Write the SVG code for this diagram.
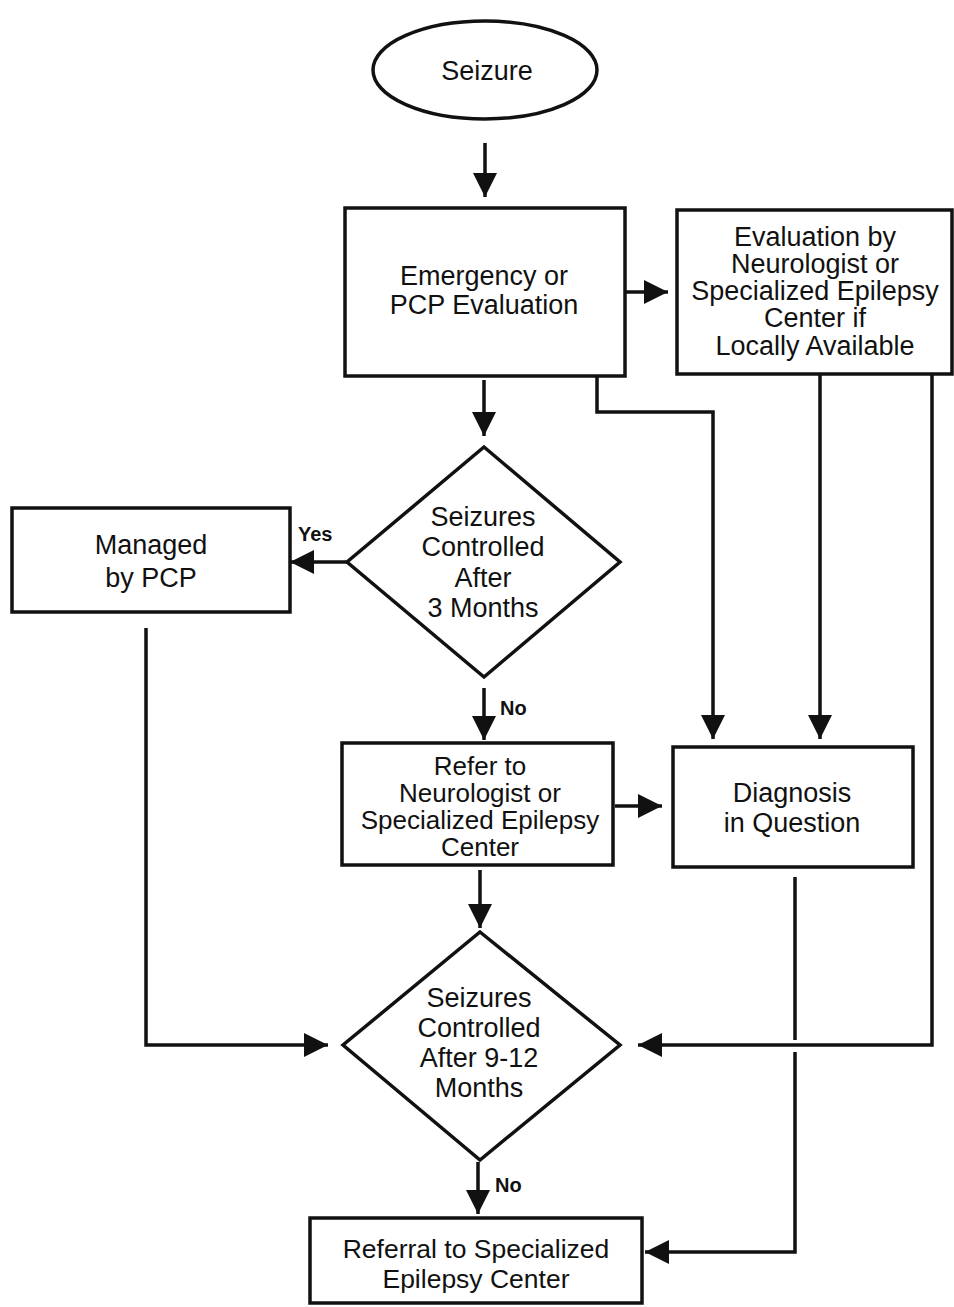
<svg xmlns="http://www.w3.org/2000/svg" width="954" height="1307" viewBox="0 0 954 1307">
<style>
.n{fill:#fff;stroke:#111;stroke-width:3.5}
.t{font-family:"Liberation Sans",Arial,sans-serif;font-size:27px;fill:#111;text-anchor:middle}
.s{font-size:26px}
.r{font-size:26.5px}
.l{font-family:"Liberation Sans",Arial,sans-serif;font-size:20px;font-weight:bold;fill:#111}
.c{fill:none;stroke:#111;stroke-width:3.5}
</style>
<defs>
<marker id="ah" markerUnits="userSpaceOnUse" markerWidth="26" markerHeight="26" refX="24" refY="12" orient="auto">
<path d="M0,0 L24,12 L0,24 z" fill="#111"/>
</marker>
</defs>
<rect width="954" height="1307" fill="#fff"/>
<g id="connectors">
<line class="c" x1="485" y1="143" x2="485" y2="197" marker-end="url(#ah)"/>
<line class="c" x1="625" y1="292" x2="668" y2="292" marker-end="url(#ah)"/>
<line class="c" x1="484" y1="380" x2="484" y2="436" marker-end="url(#ah)"/>
<polyline class="c" points="597,372 597,412 713,412 713,739" marker-end="url(#ah)"/>
<line class="c" x1="820" y1="374" x2="820" y2="739" marker-end="url(#ah)"/>
<polyline class="c" points="932,374 932,1045 638,1045" marker-end="url(#ah)"/>
<line class="c" x1="347" y1="562" x2="290" y2="562" marker-end="url(#ah)"/>
<polyline class="c" points="146,628 146,1045 328,1045" marker-end="url(#ah)"/>
<line class="c" x1="484" y1="688" x2="484" y2="740" marker-end="url(#ah)"/>
<line class="c" x1="615" y1="806" x2="662" y2="806" marker-end="url(#ah)"/>
<line class="c" x1="480" y1="870" x2="480" y2="928" marker-end="url(#ah)"/>
<line class="c" x1="795" y1="877" x2="795" y2="1040"/>
<polyline class="c" points="795,1052 795,1252 645,1252" marker-end="url(#ah)"/>
<line class="c" x1="478" y1="1162" x2="478" y2="1214" marker-end="url(#ah)"/>
<text class="l" x="298" y="541">Yes</text>
<text class="l" x="500" y="715">No</text>
<text class="l" x="495" y="1192">No</text>
</g>
<g id="seizure">
<ellipse class="n" cx="485" cy="70" rx="112" ry="49"/>
<text class="t" x="487" y="80">Seizure</text>
</g>
<g id="emergency">
<rect class="n" x="345" y="208" width="280" height="168"/>
<text class="t" x="484" y="285">Emergency or</text>
<text class="t" x="484" y="314">PCP Evaluation</text>
</g>
<g id="evaluation">
<rect class="n" x="677" y="210" width="275" height="164"/>
<text class="t" x="815" y="246">Evaluation by</text>
<text class="t" x="815" y="273">Neurologist or</text>
<text class="t" x="815" y="300">Specialized Epilepsy</text>
<text class="t" x="815" y="327">Center if</text>
<text class="t" x="815" y="355">Locally Available</text>
</g>
<g id="controlled3">
<polygon class="n" points="484,447 620,562 484,677 347,562"/>
<text class="t" x="483" y="526">Seizures</text>
<text class="t" x="483" y="556">Controlled</text>
<text class="t" x="483" y="587">After</text>
<text class="t" x="483" y="617">3 Months</text>
</g>
<g id="managed">
<rect class="n" x="12" y="508" width="278" height="104"/>
<text class="t" x="151" y="554">Managed</text>
<text class="t" x="151" y="587">by PCP</text>
</g>
<g id="refer">
<rect class="n" x="342" y="743" width="271" height="122"/>
<text class="t s" x="480" y="775">Refer to</text>
<text class="t s" x="480" y="802">Neurologist or</text>
<text class="t s" x="480" y="829">Specialized Epilepsy</text>
<text class="t s" x="480" y="856">Center</text>
</g>
<g id="diagnosis">
<rect class="n" x="673" y="747" width="240" height="120"/>
<text class="t" x="792" y="802">Diagnosis</text>
<text class="t" x="792" y="832">in Question</text>
</g>
<g id="controlled912">
<polygon class="n" points="480,932 620,1045 480,1160 343,1045"/>
<text class="t" x="479" y="1007">Seizures</text>
<text class="t" x="479" y="1037">Controlled</text>
<text class="t" x="479" y="1067">After 9-12</text>
<text class="t" x="479" y="1097">Months</text>
</g>
<g id="referral">
<rect class="n" x="310" y="1218" width="332" height="85"/>
<text class="t r" x="476" y="1258">Referral to Specialized</text>
<text class="t r" x="476" y="1288">Epilepsy Center</text>
</g>
</svg>
